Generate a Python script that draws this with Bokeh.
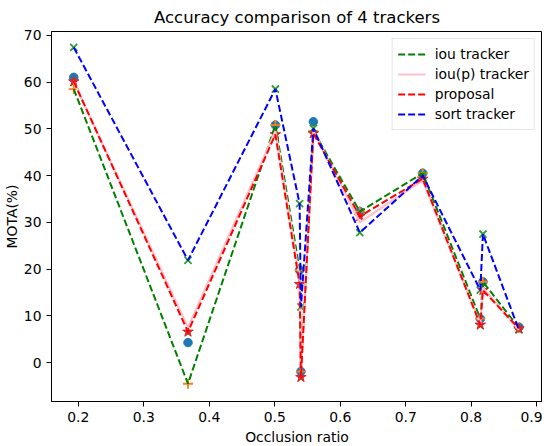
from bokeh.plotting import figure
from bokeh.models import Range1d, Legend, LegendItem, FixedTicker
from bokeh.embed import file_html
from bokeh.resources import INLINE

occlusion = [0.193, 0.3675, 0.501, 0.538, 0.540, 0.559, 0.630, 0.726, 0.814, 0.818, 0.873]
iou_tracker = [58.5, -4.5, 50.8, 19.8, -1.9, 49.5, 32.3, 40.5, 9.4, 17.3, 7.4]
ioup_points = [61.0, 4.3, 50.8, 19.8, -1.9, 51.5, 32.3, 40.5, 9.4, 17.3, 7.6]
ioup_tracker = [60.0, 7.5, 49.5, 18.0, -2.5, 49.5, 30.0, 39.0, 8.3, 16.0, 7.0]
proposal = [60.1, 6.6, 48.8, 16.8, -3.1, 49.0, 31.3, 39.3, 8.1, 15.5, 7.3]
sort_tracker = [67.4, 21.9, 58.5, 34.0, 11.9, 50.1, 27.8, 40.0, 15.5, 27.5, 7.0]

x_ticks = [0.2, 0.3, 0.4, 0.5, 0.6, 0.7, 0.8, 0.9]
y_ticks = [0, 10, 20, 30, 40, 50, 60, 70]

FONT = "DejaVu Sans"

p = figure(width=538, height=430, output_backend="svg", toolbar_location=None,
           x_range=Range1d(0.159, 0.909), y_range=Range1d(-8.3, 70.8),
           title="Accuracy comparison of 4 trackers",
           frame_width=491, frame_height=370,
           min_border_left=47, min_border_right=0, min_border_top=25, min_border_bottom=30)

p.title.text_font = FONT
p.title.text_font_size = "16.5px"
p.title.text_font_style = "normal"
p.title.align = "center"
p.title.text_color = "black"

p.xgrid.visible = False
p.ygrid.visible = False
p.outline_line_color = "black"
p.outline_line_width = 1
p.background_fill_color = "white"
p.border_fill_color = "white"

for ax in (p.xaxis[0], p.yaxis[0]):
    ax.major_label_text_font = FONT
    ax.major_label_text_font_size = "13.9px"
    ax.major_label_text_color = "black"
    ax.axis_label_text_font = FONT
    ax.axis_label_text_font_size = "13.9px"
    ax.axis_label_text_font_style = "normal"
    ax.axis_label_text_color = "black"
    ax.major_tick_in = 0
    ax.major_tick_out = 5
    ax.minor_tick_in = 0
    ax.minor_tick_out = 0
    ax.axis_line_color = "black"
    ax.major_tick_line_color = "black"

p.xaxis.ticker = FixedTicker(ticks=x_ticks)
p.yaxis.ticker = FixedTicker(ticks=y_ticks)
p.xaxis.axis_label = "Occlusion ratio"
p.yaxis.axis_label = "MOTA(%)"
p.xaxis.axis_label_standoff = 4
p.yaxis.axis_label_standoff = 1

# scatter markers (below the lines, as in the original)
p.scatter(occlusion, ioup_points, marker="circle", size=8.5, fill_color="#1f77b4", line_color="#1f77b4")
p.scatter(occlusion, iou_tracker, marker="cross", size=10, line_color="#ff7f0e", line_width=1.8)
p.scatter(occlusion, sort_tracker, marker="x", size=10, line_color="#2ca02c", line_width=1.8)
p.scatter(occlusion, proposal, marker="star", size=11, fill_color="#d62728", line_color="#d62728")

r_iou = p.line(occlusion, iou_tracker, line_color="#008000", line_width=2, line_dash="7 3")
r_ioup = p.line(occlusion, ioup_tracker, line_color="#ffc0cb", line_width=2.2)
r_prop = p.line(occlusion, proposal, line_color="#ff0000", line_width=2, line_dash="7 3")
r_sort = p.line(occlusion, sort_tracker, line_color="#0000ff", line_width=2, line_dash="7 3")

legend = Legend(items=[
    LegendItem(label="iou tracker", renderers=[r_iou]),
    LegendItem(label="iou(p) tracker", renderers=[r_ioup]),
    LegendItem(label="proposal", renderers=[r_prop]),
    LegendItem(label="sort tracker", renderers=[r_sort]),
], location="top_right")
legend.label_text_font = FONT
legend.label_text_font_size = "13.9px"
legend.label_text_color = "black"
legend.glyph_width = 28
legend.glyph_height = 20
legend.label_height = 20
legend.spacing = 0
legend.padding = 5
legend.margin = 7
legend.label_standoff = 9
legend.border_line_color = "#cccccc"
legend.border_line_width = 1
legend.background_fill_alpha = 0.8
p.add_layout(legend)

open("out.html", "w").write(file_html(p, INLINE))
